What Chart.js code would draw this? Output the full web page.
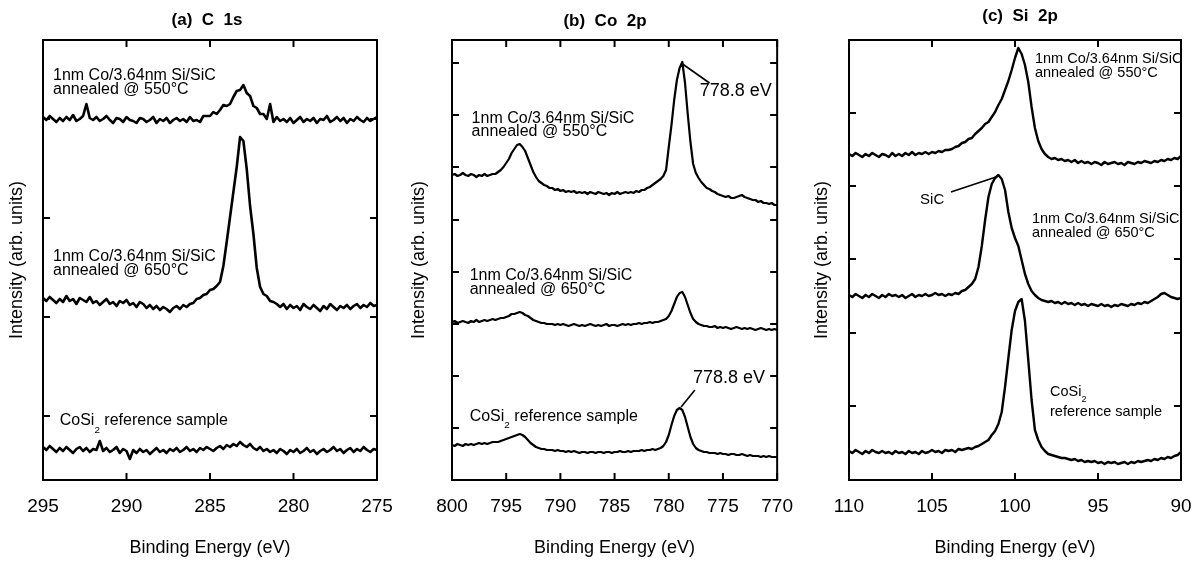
<!DOCTYPE html>
<html><head><meta charset="utf-8">
<script src="https://cdn.jsdelivr.net/npm/chart.js@4.4.0/dist/chart.umd.min.js"></script>
<style>
html,body{margin:0;padding:0;background:#fff;overflow:hidden;width:1200px;height:561px;position:relative;}
canvas{position:absolute;top:0;}
</style></head><body>
<canvas id="ca" width="414" height="561" style="left:0px"></canvas>
<canvas id="cb" width="410" height="561" style="left:400px"></canvas>
<canvas id="cc" width="440" height="561" style="left:800px"></canvas>
<script>
// ---------- Panel (a) C 1s ----------
const A_E = [295,294.8,294.6,294.4,294.2,294,293.8,293.6,293.4,293.2,293,292.8,292.6,292.4,292.2,292,291.8,291.6,291.4,291.2,
291,290.8,290.6,290.4,290.2,290,289.8,289.6,289.4,289.2,289,288.8,288.6,288.4,288.2,288,287.8,287.6,287.4,287.2,
287,286.8,286.6,286.4,286.2,286,285.8,285.6,285.4,285.2,285,284.8,284.6,284.4,284.2,284,283.8,283.6,283.4,283.2,
283,282.8,282.6,282.4,282.2,282,281.8,281.6,281.4,281.2,281,280.8,280.6,280.4,280.2,280,279.8,279.6,279.4,279.2,
279,278.8,278.6,278.4,278.2,278,277.8,277.6,277.4,277.2,277,276.8,276.6,276.4,276.2,276,275.8,275.6,275.4,275.2,275];
const A_550 = [363,360,364,361,358,362,359,363,360,365,359,361,364,376,362,360,363,359,361,364,
360,357,362,361,358,363,360,359,357,362,361,358,360,363,357,361,359,362,357,360,
362,359,361,358,363,359,360,358,364,364,364,368,366,370,375,374,376,383,389,390,
395,387,384,374,372,366,366,361,376,358,363,359,361,358,362,357,360,363,358,361,
359,362,357,361,360,364,358,360,363,359,362,357,361,359,363,360,358,362,359,361,363];
const A_650 = [182,179,183,180,177,181,178,184,179,181,176,182,180,178,183,177,179,175,178,181,
176,178,174,179,177,180,175,177,173,178,176,172,175,171,174,170,173,171,168,172,
174,171,175,173,176,177,181,182,185,186,190,191,194,198,214,238,263,288,313,343,
339,311,274,246,212,193,186,184,179,178,176,173,176,171,175,172,174,170,176,173,
171,175,172,169,174,171,176,173,170,174,172,175,171,174,176,172,175,173,177,174,175];
const A_COSI2 = [33,30,34,31,28,32,29,33,30,27,31,33,29,32,28,31,30,39,29,32,
28,30,33,27,31,29,21,30,27,31,28,30,26,29,32,28,30,27,31,29,
32,28,30,33,29,31,28,32,30,33,31,29,32,34,31,35,33,36,34,38,
35,33,36,32,30,33,29,31,28,30,27,31,29,26,30,28,31,27,29,32,
28,30,26,29,31,28,30,33,29,31,27,30,32,28,31,29,33,30,28,31,30];
const A_XTICKS = [295,290,285,280,275];
const A_YTICKS = [64,163,262,361];

// ---------- Panel (b) Co 2p ----------
const B_E = [800,799.75,799.5,799.25,799,798.75,798.5,798.25,798,797.75,797.5,797.25,797,796.75,796.5,796.25,
796,795.75,795.5,795.25,795,794.75,794.5,794.25,794,793.75,793.5,793.25,793,792.75,792.5,792.25,
792,791.75,791.5,791.25,791,790.75,790.5,790.25,790,789.75,789.5,789.25,789,788.75,788.5,788.25,
788,787.75,787.5,787.25,787,786.75,786.5,786.25,786,785.75,785.5,785.25,785,784.75,784.5,784.25,
784,783.75,783.5,783.25,783,782.75,782.5,782.25,782,781.75,781.5,781.25,781,780.75,780.5,780.25,
780,779.75,779.5,779.25,779,778.75,778.5,778.25,778,777.75,777.5,777.25,777,776.75,776.5,776.25,
776,775.75,775.5,775.25,775,774.75,774.5,774.25,774,773.75,773.5,773.25,773,772.75,772.5,772.25,
772,771.75,771.5,771.25,771,770.75,770.5,770.25,770];
const B_550 = [305,306,304,305,307,305,304,306,305,303,305,304,306,304,305,306,306,308,310,313,
317,321,327,331,335,336,333,329,322,315,308,303,299,297,295,294,292,292,290,291,
289,290,288,289,288,289,287,288,287,288,286,288,287,286,288,287,286,287,285,287,
286,288,286,287,288,287,288,287,289,288,290,290,292,293,295,297,299,301,304,310,
333,355,380,400,412,418,397,366,338,316,307,302,298,295,292,291,289,288,286,285,
284,283,284,282,282,283,284,285,283,282,281,280,280,278,279,277,277,276,277,275,275];
const B_650 = [158,159,157,158,159,158,157,159,158,160,158,159,160,159,160,161,160,161,162,162,
163,164,166,166,167,168,167,165,164,162,160,159,158,157,157,156,156,156,155,156,
155,156,155,154,155,156,155,154,155,154,155,156,155,154,155,154,155,156,154,155,
155,154,155,156,155,156,155,156,156,157,156,157,157,158,157,158,158,159,160,161,
164,169,176,183,187,188,183,175,167,161,158,156,155,154,154,153,153,154,152,153,
152,153,152,151,152,153,152,151,152,151,152,151,150,151,152,151,150,151,150,151,150];
const B_COSI2 = [35,34,36,35,34,36,35,36,35,36,37,36,37,36,37,38,38,38,39,40,
41,42,43,44,45,46,45,43,40,37,35,33,32,31,31,30,30,30,29,30,
29,29,28,29,28,29,28,27,28,28,27,28,28,27,28,28,27,28,28,27,
28,28,29,28,28,29,28,29,29,29,30,29,30,30,31,30,31,32,34,38,
45,55,64,70,72,70,63,53,43,36,32,30,29,28,28,27,27,27,26,27,
26,26,25,26,26,25,25,26,25,24,25,24,24,24,23,24,23,24,23,23,23];
const B_XTICKS = [800,795,790,785,780,775,770];
const B_YTICKS = [52,104,156,208,260,313,365,417];

// ---------- Panel (c) Si 2p ----------
const C_E = [110,109.8,109.6,109.4,109.2,109,108.8,108.6,108.4,108.2,108,107.8,107.6,107.4,107.2,107,106.8,106.6,106.4,106.2,
106,105.8,105.6,105.4,105.2,105,104.8,104.6,104.4,104.2,104,103.8,103.6,103.4,103.2,103,102.8,102.6,102.4,102.2,
102,101.8,101.6,101.4,101.2,101,100.8,100.6,100.4,100.2,100,99.8,99.6,99.4,99.2,99,98.8,98.6,98.4,98.2,
98,97.8,97.6,97.4,97.2,97,96.8,96.6,96.4,96.2,96,95.8,95.6,95.4,95.2,95,94.8,94.6,94.4,94.2,
94,93.8,93.6,93.4,93.2,93,92.8,92.6,92.4,92.2,92,91.8,91.6,91.4,91.2,91,90.8,90.6,90.4,90.2,90];
const C_550 = [326,324,327,325,323,326,324,327,325,323,326,325,323,327,324,326,324,327,325,328,
325,327,326,328,326,328,327,329,328,330,330,331,333,334,337,338,341,342,346,349,
352,356,358,363,368,375,381,390,399,410,422,432,426,415,398,373,352,339,331,326,
323,321,322,320,321,319,320,318,320,317,319,317,318,316,318,317,315,318,316,317,
318,316,317,315,318,317,316,318,317,319,318,317,319,318,320,319,321,320,322,321,324];
const C_650 = [185,183,186,184,182,185,183,186,184,182,185,183,186,184,185,183,185,182,184,186,
183,185,184,186,184,185,187,185,186,184,186,185,187,186,189,190,193,196,201,213,
234,260,283,296,302,305,301,290,268,252,242,234,220,206,196,189,185,182,180,179,
178,179,177,178,176,178,176,177,175,177,175,176,174,176,175,174,176,174,175,173,
175,174,176,175,174,176,175,177,176,178,177,179,181,183,186,187,185,183,182,181,182];
const C_COSI2 = [29,27,30,28,26,29,27,30,28,27,29,27,28,26,29,27,28,26,29,27,
28,26,29,27,28,30,28,29,27,30,29,30,28,31,30,31,32,31,33,34,
36,38,40,45,49,56,68,93,122,150,169,178,181,159,120,80,50,40,33,29,
26,25,24,23,22,22,21,20,21,19,20,18,19,18,19,17,18,16,18,17,
18,16,17,18,16,18,17,19,18,19,20,19,21,20,22,21,23,22,24,25,28];
const C_XTICKS = [110,105,100,95,90];
const C_YTICKS = [74,147,221,294,367];

// ---------- text annotations (data coordinates) ----------
const L1 = '1nm Co/3.64nm Si/SiC';
const A_LABELS = [
  {x:294.4, y:404, size:16, runs:[{t:L1}]},
  {x:294.4, y:390, size:16, runs:[{t:'annealed @ 550°C'}]},
  {x:294.4, y:223, size:16, runs:[{t:L1}]},
  {x:294.4, y:209, size:16, runs:[{t:'annealed @ 650°C'}]},
  {x:294.0, y:59, size:16, runs:[{t:'CoSi'},{t:'2',sub:true},{t:' reference sample'}]}
];
const B_LABELS = [
  {x:798.19, y:361, size:16, runs:[{t:L1}]},
  {x:798.19, y:348, size:16, runs:[{t:'annealed @ 550°C'}]},
  {x:798.37, y:204.5, size:16, runs:[{t:L1}]},
  {x:798.37, y:190.5, size:16, runs:[{t:'annealed @ 650°C'}]},
  {x:798.37, y:63.5, size:16, runs:[{t:'CoSi'},{t:'2',sub:true},{t:' reference sample'}]},
  {x:777.14, y:389, size:18, runs:[{t:'778.8 eV'}]},
  {x:777.77, y:102, size:18, runs:[{t:'778.8 eV'}]}
];
const B_POINTERS = [[778.86,417,776.24,397],[778.86,73,777.59,90]];
const C_LABELS = [
  {x:98.80, y:421, size:14.5, runs:[{t:L1}]},
  {x:98.80, y:407, size:14.5, runs:[{t:'annealed @ 550°C'}]},
  {x:98.98, y:261, size:14.5, runs:[{t:L1}]},
  {x:98.98, y:247, size:14.5, runs:[{t:'annealed @ 650°C'}]},
  {x:105.72, y:280, size:15, runs:[{t:'SiC'}]},
  {x:97.89, y:88, size:14.5, runs:[{t:'CoSi'},{t:'2',sub:true}]},
  {x:97.89, y:68, size:14.5, runs:[{t:'reference sample'}]}
];
const C_POINTERS = [[103.86,288,101.14,303]];

const FONT = "'Liberation Sans', Arial, Helvetica, sans-serif";
const TL = 7;

function makePanel(p) {
  const framePlugin = {
    id: 'frame_' + p.id,
    afterDatasetsDraw(chart) {
      const ctx = chart.ctx, a = chart.chartArea, x = chart.scales.x, y = chart.scales.y;
      ctx.save();
      ctx.strokeStyle = '#000';
      ctx.lineWidth = 2;
      ctx.strokeRect(a.left, a.top, a.right - a.left, a.bottom - a.top);
      ctx.beginPath();
      p.xTicks.forEach(v => {
        const px = x.getPixelForValue(v);
        ctx.moveTo(px, a.bottom); ctx.lineTo(px, a.bottom - TL);
        ctx.moveTo(px, a.top); ctx.lineTo(px, a.top + TL);
      });
      p.yTicks.forEach(v => {
        const py = y.getPixelForValue(v);
        ctx.moveTo(a.left, py); ctx.lineTo(a.left + TL, py);
        ctx.moveTo(a.right, py); ctx.lineTo(a.right - TL, py);
      });
      ctx.stroke();
      ctx.lineWidth = 1.6;
      (p.pointers || []).forEach(l => {
        ctx.beginPath();
        ctx.moveTo(x.getPixelForValue(l[0]), y.getPixelForValue(l[1]));
        ctx.lineTo(x.getPixelForValue(l[2]), y.getPixelForValue(l[3]));
        ctx.stroke();
      });
      ctx.fillStyle = '#000';
      ctx.textBaseline = 'middle';
      ctx.textAlign = 'left';
      p.labels.forEach(lb => {
        let px = x.getPixelForValue(lb.x);
        const py = y.getPixelForValue(lb.y);
        lb.runs.forEach(r => {
          const s = r.sub ? lb.size * 0.62 : lb.size;
          ctx.font = s + 'px ' + FONT;
          ctx.fillText(r.t, px, py + (r.sub ? lb.size * 0.55 : 0));
          px += ctx.measureText(r.t).width;
        });
      });
      ctx.restore();
    }
  };
  return new Chart(document.getElementById(p.id), {
    type: 'line',
    data: {
      datasets: p.series.map(s => ({
        data: p.E.map((e, i) => ({x: e, y: s[i]})),
        borderColor: '#000', borderWidth: p.lw, pointRadius: 0, tension: 0,
        fill: false, borderJoinStyle: 'round'
      }))
    },
    options: {
      responsive: false, animation: false, events: [], devicePixelRatio: 1,
      layout: {padding: 0},
      plugins: {
        legend: {display: false}, tooltip: {enabled: false},
        title: {display: true, text: p.title, color: '#000',
          font: {family: FONT, size: 17, weight: 'bold', lineHeight: 1},
          padding: {top: p.titleTop, bottom: 40 - p.titleTop - 17}}
      },
      scales: {
        x: {type: 'linear', position: 'bottom', reverse: true,
          min: Math.min(...p.xTicks), max: Math.max(...p.xTicks),
          afterBuildTicks: ax => { ax.ticks = p.xTicks.map(v => ({value: v})); },
          afterFit: ax => { ax.height = 81; },
          grid: {display: false, drawTicks: false}, border: {display: false},
          ticks: {color: '#000', font: {family: FONT, size: 19, lineHeight: 1}, padding: 17,
            autoSkip: false, maxRotation: 0, callback: v => String(v)},
          title: {display: true, text: 'Binding Energy (eV)', color: '#000',
            font: {family: FONT, size: 18, lineHeight: 1}, padding: {top: 0, bottom: 4}}
        },
        y: {type: 'linear', position: 'left', min: 0, max: 440,
          afterBuildTicks: ax => { ax.ticks = p.yTicks.map(v => ({value: v})); },
          afterFit: ax => { ax.width = p.leftW; },
          grid: {display: false, drawTicks: false}, border: {display: false},
          ticks: {display: false},
          title: {display: true, text: 'Intensity (arb. units)', color: '#000',
            font: {family: FONT, size: 18, lineHeight: 1}, padding: {top: p.yTitlePad, bottom: 0}}
        },
        yr: {type: 'linear', position: 'right', min: 0, max: 1,
          afterFit: ax => { ax.width = p.rightW; },
          grid: {display: false, drawTicks: false}, border: {display: false},
          ticks: {display: false}
        }
      }
    },
    plugins: [framePlugin]
  });
}

makePanel({id: 'ca', E: A_E, series: [A_550, A_650, A_COSI2], xTicks: A_XTICKS, yTicks: A_YTICKS, lw: 2.6,
  title: '(a)  C  1s', titleTop: 12, leftW: 43, rightW: 37, yTitlePad: 8, labels: A_LABELS, pointers: []});
makePanel({id: 'cb', E: B_E, series: [B_550, B_650, B_COSI2], xTicks: B_XTICKS, yTicks: B_YTICKS, lw: 2.2,
  title: '(b)  Co  2p', titleTop: 13, leftW: 52, rightW: 26, yTitlePad: 10, labels: B_LABELS, pointers: B_POINTERS});
makePanel({id: 'cc', E: C_E, series: [C_550, C_650, C_COSI2], xTicks: C_XTICKS, yTicks: C_YTICKS, lw: 2.4,
  title: '(c)  Si  2p', titleTop: 8, leftW: 49, rightW: 59, yTitlePad: 13, labels: C_LABELS, pointers: C_POINTERS});
</script></body></html>
